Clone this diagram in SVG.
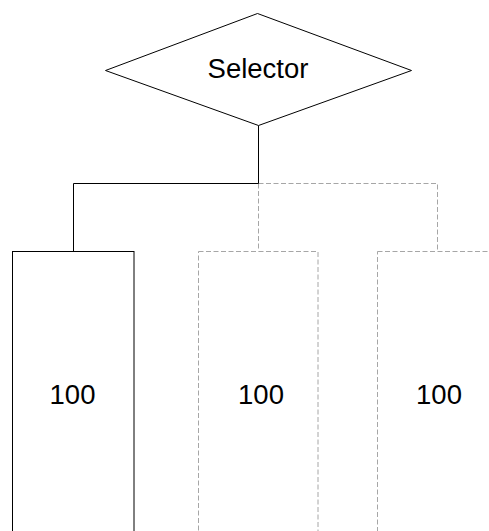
<svg xmlns="http://www.w3.org/2000/svg" width="489" height="531" viewBox="0 0 489 531">
  <style>
    .label { font-family: "Liberation Sans", Arial, sans-serif; font-size: 27.5px; fill: #000; text-anchor: middle; }
    .solid { fill: #fff; stroke: #000; stroke-width: 1; }
    .ghost { fill: #fff; stroke: #a6a6a6; stroke-width: 1; stroke-dasharray: 5 2.5; }
    .wire { fill: none; stroke: #000; stroke-width: 1; }
    .wire-ghost { fill: none; stroke: #a6a6a6; stroke-width: 1; stroke-dasharray: 5 2.5; }
  </style>
  <rect width="489" height="531" fill="#fff"/>

  <!-- connectors -->
  <g id="connectors">
    <path class="wire-ghost" d="M258.5 183.5 H437.5 V251.5"/>
    <path class="wire-ghost" d="M258.5 183.5 V251.5"/>
    <path class="wire" d="M258.5 125.5 V183.5 H73.5 V251.5"/>
  </g>

  <g id="selector">
    <polygon class="solid" points="105.5,70.5 257.5,13.5 411.5,70.5 258.5,125.5"/>
    <text class="label" x="258" y="77.5">Selector</text>
  </g>

  <g id="item-1">
    <rect class="solid" x="12.5" y="251.5" width="121.5" height="290"/>
    <text class="label" x="72.5" y="404">100</text>
  </g>

  <g id="item-2">
    <rect class="ghost" x="198.5" y="251.5" width="119.5" height="290"/>
    <text class="label" x="261" y="404">100</text>
  </g>

  <g id="item-3">
    <rect class="ghost" x="377.5" y="251.5" width="124" height="290"/>
    <text class="label" x="439" y="404">100</text>
  </g>
</svg>
